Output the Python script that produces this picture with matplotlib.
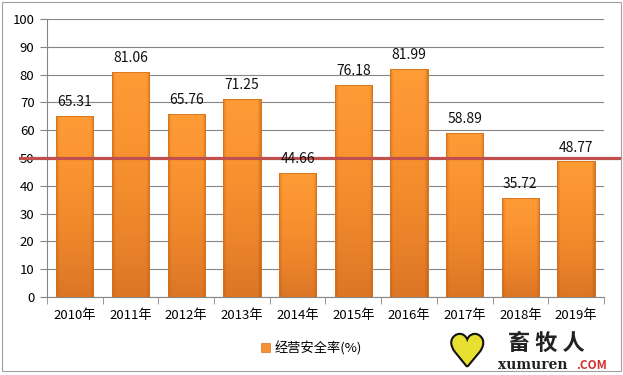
import numpy as np
import matplotlib.pyplot as plt
import matplotlib.transforms as mtransforms
import matplotlib.patheffects as pe
from matplotlib.patches import Rectangle
from matplotlib.colors import LinearSegmentedColormap

plt.rcParams['font.family'] = ['Noto Sans CJK SC', 'DejaVu Sans']

years = ['2010年', '2011年', '2012年', '2013年', '2014年',
         '2015年', '2016年', '2017年', '2018年', '2019年']
rates = [65.31, 81.06, 65.76, 71.25, 44.66, 76.18, 81.99, 58.89, 35.72, 48.77]
threshold = 50
series_name = '经营安全率(%)'

fig = plt.figure(figsize=(6.23, 3.75), dpi=100)
ax = fig.add_axes([0.0754, 0.208, 0.894, 0.741])

x = np.arange(len(years))
bw = 0.67
bars = ax.bar(x, rates, bw, color='#F7922F', edgecolor='#D8731C', linewidth=0.6, zorder=3)

# vertical gradient on each bar (brighter top, darker bottom)
grad = np.linspace(0, 1, 256).reshape(-1, 1)
cmap = LinearSegmentedColormap.from_list('bar', ['#DC7626', '#EE872B', '#F99330', '#FF9C36'])
for b in bars:
    bx, by = b.get_x(), b.get_y()
    w, h = b.get_width(), b.get_height()
    im = ax.imshow(grad, extent=[bx, bx + w, by, by + h], origin='lower',
                   cmap=cmap, aspect='auto', zorder=3.5)
    im.set_clip_path(b)
    # darker sides for the bevel look
    hg = np.linspace(0, 1, 64)
    side = np.abs(hg - 0.5) * 2
    side = np.clip((side - 0.8) / 0.2, 0, 1) ** 1.5
    rgba = np.zeros((1, 64, 4))
    rgba[..., 0:3] = [0.6, 0.3, 0.05]
    rgba[..., 3] = side * 0.4
    im2 = ax.imshow(rgba, extent=[bx, bx + w, by, by + h], aspect='auto', zorder=3.6)
    im2.set_clip_path(b)
    ax.add_patch(Rectangle((bx, by), w, h, fill=False, edgecolor='#D8731C', linewidth=0.6, zorder=3.7))

for xi, v in zip(x, rates):
    ax.annotate(f'{v:.2f}', (xi, v), xytext=(0, 5), textcoords='offset points',
                ha='center', va='bottom', fontsize=10, color='#111111', zorder=5)

ax.set_xlim(-0.5, len(years) - 0.5)
ax.set_ylim(0, 100)
ax.set_yticks(range(0, 101, 10))
ax.set_xticks(x)
ax.set_xticklabels(years)
ax.set_xticks(np.arange(-0.5, len(years)), minor=True)
ax.tick_params(axis='x', which='major', length=0, pad=9, labelsize=9.5)
ax.tick_params(axis='x', which='minor', length=5, color='#868686', direction='out')
ax.tick_params(axis='y', length=5, color='#868686', labelsize=9.5, pad=4)
ax.grid(axis='y', color='#868686', linewidth=0.8, zorder=0)
ax.set_axisbelow(True)
for s in ['top', 'right']:
    ax.spines[s].set_visible(False)
ax.spines['left'].set_color('#868686')
ax.spines['bottom'].set_color('#868686')

# threshold line spanning the chart area
trans = mtransforms.blended_transform_factory(fig.transFigure, ax.transData)
ax.plot([0.032, 0.995], [threshold, threshold], transform=trans, color='#C0504D',
        linewidth=2.3, clip_on=False, zorder=4)

# legend
handle = Rectangle((0, 0), 1, 1, facecolor='#F39235', edgecolor='#D8731C', linewidth=0.5)
fig.legend([handle], [series_name], loc='center', bbox_to_anchor=(0.5, 0.072),
           frameon=False, fontsize=9.5, handlelength=0.7, handleheight=0.7, handletextpad=0.3)

# chart border
fig.patches.append(Rectangle((0.003, 0.012), 0.994, 0.983, transform=fig.transFigure,
                             fill=False, edgecolor='#A0A0A0', linewidth=0.8))

# watermark logo
fig.text(0.815, 0.083, '畜 牧 人', fontsize=16, fontweight='bold', color='#222222',
         ha='left', va='center')
fig.text(0.8, 0.026, 'xumuren', fontsize=10, color='#222222', ha='left', va='center',
         family='DejaVu Serif', fontweight='bold')
fig.text(0.925, 0.026, '.COM', fontsize=8.5, color='#D03030', ha='left', va='center',
         fontweight='bold')
fig.text(0.75, 0.058, '♥', fontsize=30, color='#E8E030', ha='center', va='center',
         family='DejaVu Sans',
         path_effects=[pe.withStroke(linewidth=3, foreground='#111111')])

fig.savefig('out.png', dpi=100)
